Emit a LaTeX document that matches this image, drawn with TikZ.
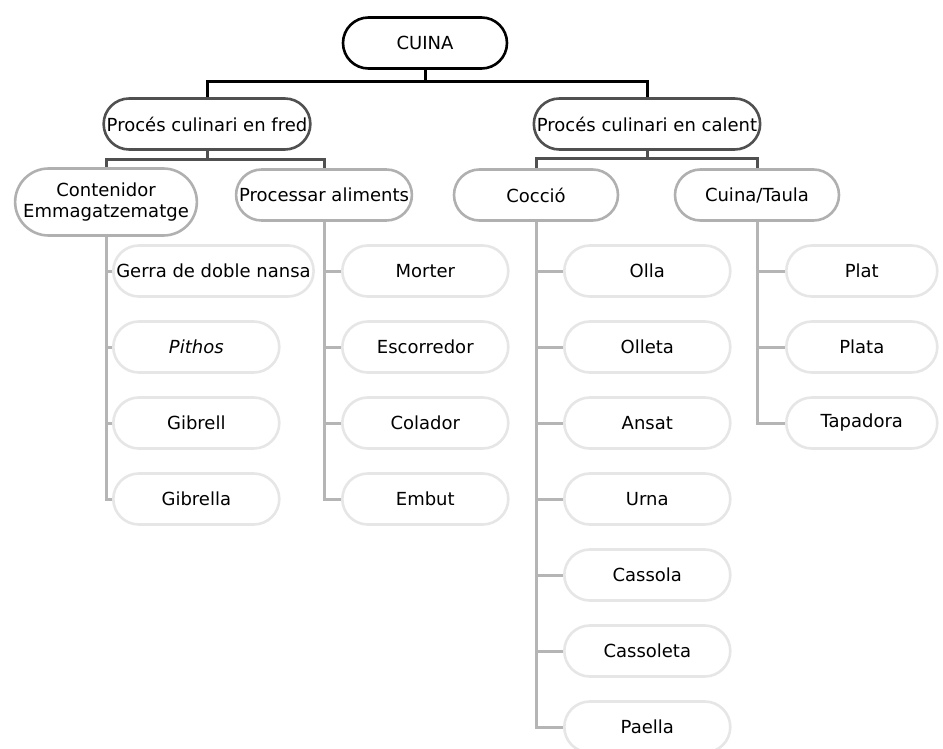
\documentclass[tikz,border=0pt]{standalone}
\usepackage{fontspec}
\setmainfont{DejaVu Sans}
\usetikzlibrary{shapes.misc}
\definecolor{nivella}{HTML}{505050}
\definecolor{nivellb}{HTML}{B0B0B0}
\definecolor{nivellc}{HTML}{E6E6E6}
\definecolor{lineac}{HTML}{B5B5B5}
\tikzset{
  caixa/.style={rounded rectangle, draw, line width=2.6pt, fill=white, align=center,
    font=\fontsize{18}{21}\selectfont, inner xsep=2pt, inner ysep=0pt, minimum height=51pt},
  arrel/.style={caixa, draw=black, minimum width=168pt},
  proces/.style={caixa, draw=nivella},
  grup/.style={caixa, draw=nivellb},
  fulla/.style={caixa, draw=nivellc, minimum width=170pt, anchor=west},
  lineaa/.style={draw=black, line width=3pt},
  lineab/.style={draw=nivella, line width=3pt},
  lineac/.style={draw=lineac, line width=3pt}
}
\begin{document}
\begin{tikzpicture}[x=1pt, y=-1pt]
\useasboundingbox (0,0) rectangle (943,749);

% arrel i processos
\node[arrel] (cuina) at (425,43) {CUINA};
\node[proces] (fred) at (207,124) {Procés culinari en fred};
\node[proces] (calent) at (647,124) {Procés culinari en calent};
\draw[lineaa] (cuina.south) -- ++(0,12) -| (fred.north);
\draw[lineaa] (cuina.south) -- ++(0,12) -| (calent.north);

% grups
\node[grup, minimum height=67pt] (contenidor) at (106,202) {Contenidor\\Emmagatzematge};
\node[grup] (processar) at (324,195) {Processar aliments};
\node[grup, minimum width=168pt] (coccio) at (536,195) {Cocció};
\node[grup, minimum width=168pt] (taula) at (757,195) {Cuina/Taula};
\draw[lineab] (fred.south) -- ++(0,9) -| (contenidor.north);
\draw[lineab] (fred.south) -- ++(0,9) -| (processar.north);
\draw[lineab] (calent.south) -- ++(0,8) -| (coccio.north);
\draw[lineab] (calent.south) -- ++(0,8) -| (taula.north);

% fulles
\foreach \nom/\txt [count=\i] in {gerra/Gerra de doble nansa, pithos/\textit{Pithos}, gibrell/Gibrell, gibrella/Gibrella} {
  \node[fulla] (\nom) at (112,{195+76*\i}) {\txt};
  \draw[lineac] (contenidor.south) |- (\nom.west);
}
\foreach \nom/\txt [count=\i] in {morter/Morter, escorredor/Escorredor, colador/Colador, embut/Embut} {
  \node[fulla] (\nom) at (341,{195+76*\i}) {\txt};
  \draw[lineac] (processar.south) |- (\nom.west);
}
\foreach \nom/\txt [count=\i] in {olla/Olla, olleta/Olleta, ansat/Ansat, urna/Urna, cassola/Cassola, cassoleta/Cassoleta, paella/Paella} {
  \node[fulla] (\nom) at (563,{195+76*\i}) {\txt};
  \draw[lineac] (coccio.south) |- (\nom.west);
}
\foreach \nom/\txt [count=\i] in {plat/Plat, plata/Plata, tapadora/Tapadora} {
  \node[fulla, minimum width=155pt] (\nom) at (785,{195+76*\i}) {\txt};
  \draw[lineac] (taula.south) |- (\nom.west);
}
\end{tikzpicture}
\end{document}
